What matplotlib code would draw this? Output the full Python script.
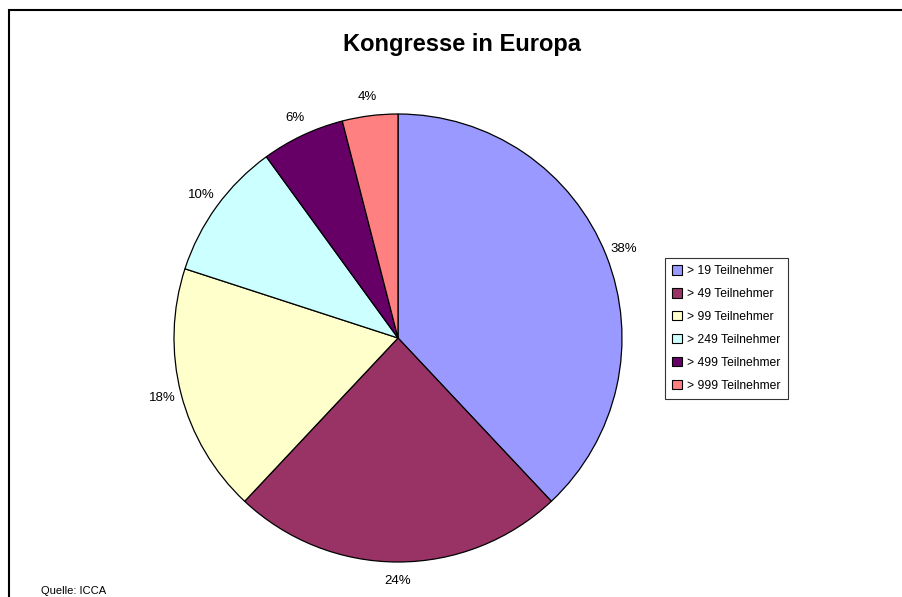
import matplotlib
matplotlib.use("Agg")
import matplotlib.pyplot as plt
from matplotlib.patches import Rectangle, Patch

plt.rcParams['font.family'] = ['Liberation Sans', 'DejaVu Sans']

# data
categories = ['> 19 Teilnehmer', '> 49 Teilnehmer', '> 99 Teilnehmer',
              '> 249 Teilnehmer', '> 499 Teilnehmer', '> 999 Teilnehmer']
shares = [38, 24, 18, 10, 6, 4]
colors = ['#9999FF', '#993366', '#FFFFCC', '#CCFFFF', '#660066', '#FF8080']

W, H = 902, 597
fig = plt.figure(figsize=(W / 100, H / 100), dpi=100)

# pie axes: centre (398, 338) px, radius 224 px
cx, cy, r = 398, 338, 224
ax = fig.add_axes([(cx - r) / W, (H - cy - r) / H, 2 * r / W, 2 * r / H])
wedges, texts, autotexts = ax.pie(
    shares, colors=colors, startangle=90, counterclock=False,
    autopct='%1.0f%%', pctdistance=1.085,
    wedgeprops=dict(edgecolor='black', linewidth=0.9))
for t in autotexts:
    t.set_fontsize(9.5)
ax.set_xlim(-1, 1)
ax.set_ylim(-1, 1)

fig.text(462 / W, 1 - 44 / H, 'Kongresse in Europa', ha='center', va='center',
         fontsize=17, fontweight='bold')

handles = [Patch(facecolor=c, edgecolor='black', linewidth=0.8) for c in colors]
leg = fig.legend(handles, categories, loc='upper left',
                 bbox_to_anchor=(665 / W, 1 - 258 / H), fontsize=8.7,
                 frameon=True, fancybox=False, handlelength=0.8, handleheight=0.8,
                 handletextpad=0.4, labelspacing=0.9, borderpad=0.6,
                 borderaxespad=0)
leg.get_frame().set_edgecolor('black')
leg.get_frame().set_linewidth(0.8)

fig.text(41 / W, 1 - 591 / H, 'Quelle: ICCA', ha='left', va='center', fontsize=8)

# outer chart frame (cropped at right and bottom)
fig.add_artist(Rectangle((8.5 / W, -0.1), 1.2, 1 - 10 / H + 0.1,
                         transform=fig.transFigure, fill=False,
                         edgecolor='black', linewidth=1.5))

fig.savefig('out.png', dpi=100)
